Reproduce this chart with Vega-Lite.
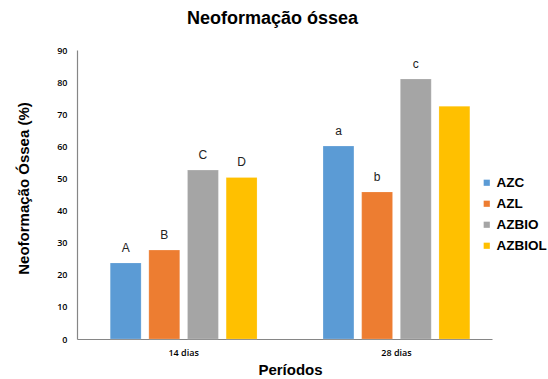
{
  "$schema": "https://vega.github.io/schema/vega-lite/v6.json",
  "width": 415,
  "height": 289,
  "autosize": "none",
  "padding": {"left": 77, "top": 50, "right": 56, "bottom": 40},
  "background": "white",
  "title": {"text": "Neoformação óssea", "fontSize": 18, "font": "Liberation Sans", "fontWeight": "bold", "color": "#000000", "anchor": "middle", "dx": -12, "offset": 18},
  "data": {"values": [
    {"periodo": "14 dias", "grupo": "AZC", "valor": 23.7, "letra": "A"},
    {"periodo": "14 dias", "grupo": "AZL", "valor": 27.7, "letra": "B"},
    {"periodo": "14 dias", "grupo": "AZBIO", "valor": 52.6, "letra": "C"},
    {"periodo": "14 dias", "grupo": "AZBIOL", "valor": 50.3, "letra": "D"},
    {"periodo": "28 dias", "grupo": "AZC", "valor": 60.1, "letra": "a"},
    {"periodo": "28 dias", "grupo": "AZL", "valor": 45.8, "letra": "b"},
    {"periodo": "28 dias", "grupo": "AZBIO", "valor": 81.0, "letra": "c"},
    {"periodo": "28 dias", "grupo": "AZBIOL", "valor": 72.5, "letra": ""}
  ]},
  "encoding": {
    "x": {"field": "periodo", "type": "nominal", "title": "Períodos",
      "scale": {"paddingInner": 0.31, "paddingOuter": 0.13, "align": 0.6},
      "axis": {"labelAngle": 0, "ticks": false, "labelFontSize": 9, "labelFont": "Open Sans", "labelFontWeight": 600, "labelColor": "#000000", "labelPadding": 9,
        "titleFont": "Liberation Sans", "titleFontSize": 15, "titleFontWeight": "bold", "titleColor": "#000000", "titlePadding": 5, "titleX": 213,
        "domainColor": "#868686", "domainWidth": 1.2}},
    "xOffset": {"field": "grupo", "type": "nominal", "sort": ["AZC", "AZL", "AZBIO", "AZBIOL"], "scale": {"paddingInner": 0.2, "paddingOuter": 0}},
    "y": {"field": "valor", "type": "quantitative", "title": "Neoformação Óssea (%)",
      "scale": {"domain": [0, 90]},
      "axis": {"values": [0,10,20,30,40,50,60,70,80,90], "grid": false, "ticks": false, "labelFontSize": 9, "labelFont": "Open Sans", "labelFontWeight": 600, "labelColor": "#000000", "labelPadding": 10,
        "titleFont": "Liberation Sans", "titleFontSize": 15, "titleFontWeight": "bold", "titleColor": "#000000", "titlePadding": 25, "titleY": 138,
        "domainColor": "#868686", "domainWidth": 1.2}}
  },
  "layer": [
    {"mark": {"type": "bar", "stroke": "#ffffff", "strokeOpacity": 0.4, "strokeWidth": 0.5},
      "encoding": {
        "color": {"field": "grupo", "type": "nominal", "sort": ["AZC", "AZL", "AZBIO", "AZBIOL"],
          "scale": {"domain": ["AZC", "AZL", "AZBIO", "AZBIOL"], "range": ["#5B9BD5", "#ED7D31", "#A5A5A5", "#FFC000"]},
          "legend": {"title": null, "orient": "none", "legendX": 403, "legendY": 126, "padding": 0, "symbolType": "square", "symbolSize": 38, "symbolStrokeWidth": 0,
            "labelFont": "Liberation Sans", "labelFontSize": 13.5, "labelFontWeight": "bold", "labelColor": "#000000", "rowPadding": 6, "labelOffset": 3, "labelLimit": 200}}
      }},
    {"mark": {"type": "text", "baseline": "bottom", "dy": -8, "fontSize": 12, "font": "Liberation Sans", "color": "#222222"},
      "encoding": {"text": {"field": "letra"}}}
  ],
  "config": {"view": {"stroke": null}}
}
